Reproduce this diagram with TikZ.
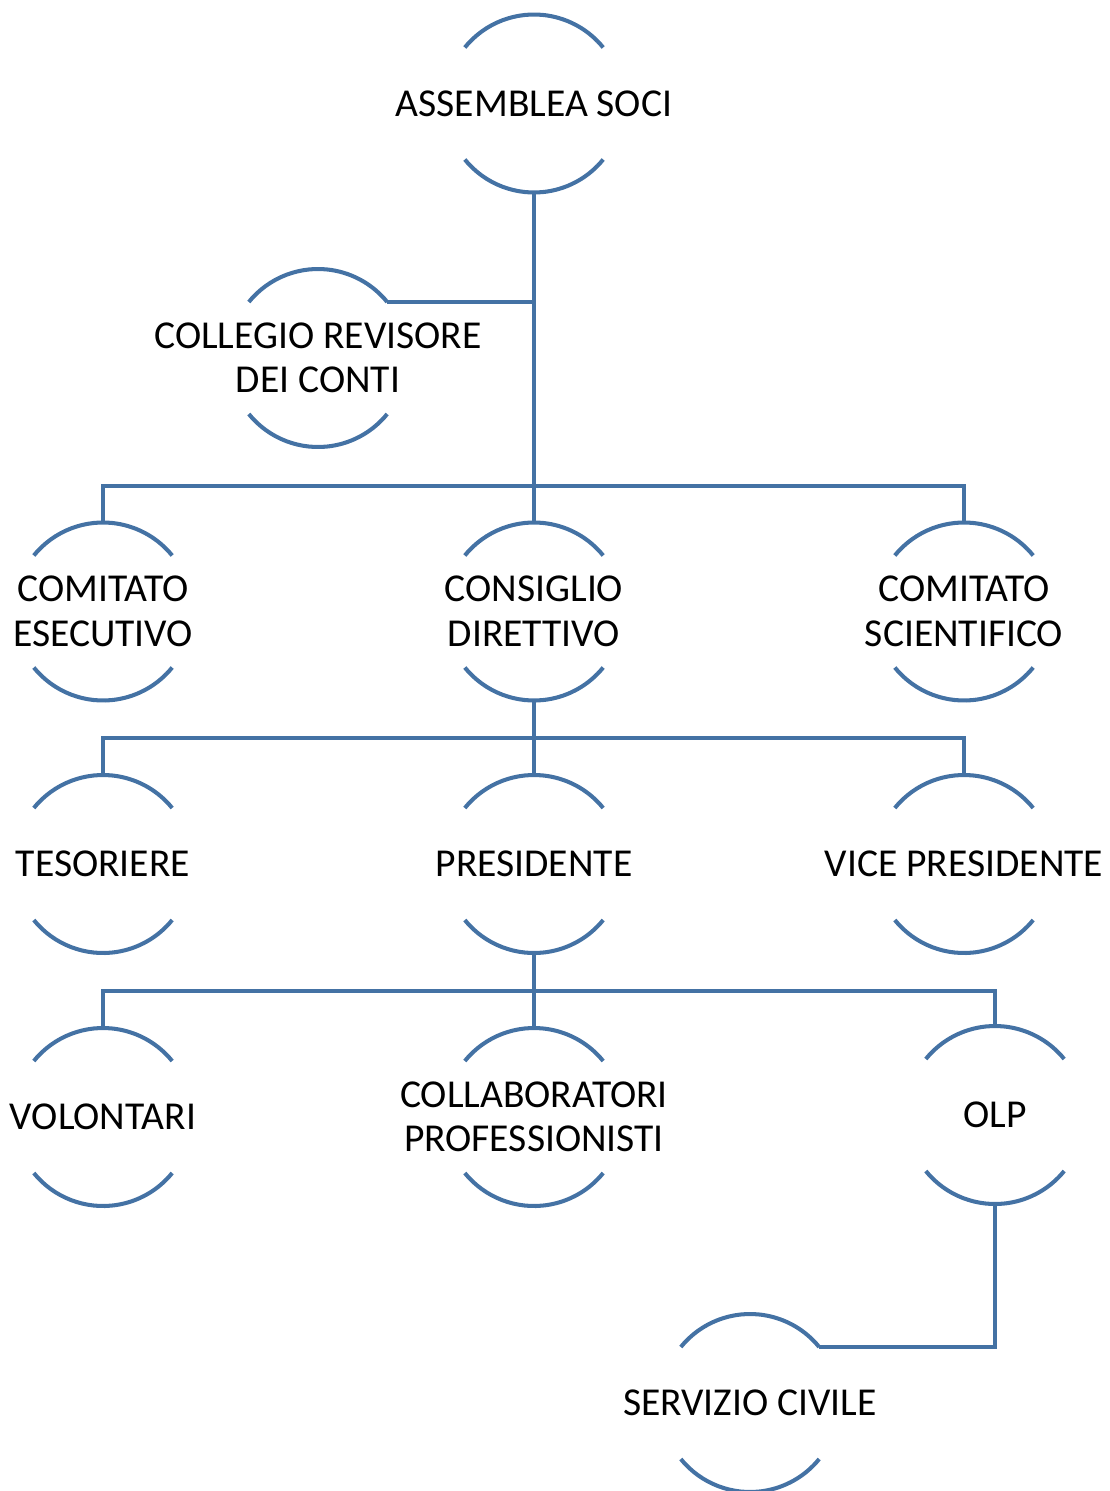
\documentclass[tikz,border=0pt]{standalone}
\usepackage{fontspec}
\setmainfont{Carlito}
\usepackage{tikz}
\usetikzlibrary{calc}
\definecolor{orgblue}{RGB}{68, 114, 164}

\begin{document}
\begin{tikzpicture}[
        unit/.style={circle, minimum size=3.56cm, inner sep=0pt, outer sep=0pt},
        unittext/.style={align=center, font=\fontsize{22.5}{25.3}\selectfont, text=black},
        orgline/.style={line width=2.3pt, orgblue}
    ]
        \useasboundingbox (0,0) rectangle (22.2,-29.82);
        % top level
        \node[unit, label={[unittext]center:ASSEMBLEA SOCI}] (as) at (10.68,-2.07) {};
        \node[unit, label={[unittext]center:COLLEGIO REVISORE\\DEI CONTI}] (cr) at (6.36,-7.16) {};
        % second row
        \node[unit, label={[unittext]center:COMITATO\\ESECUTIVO}] (ce) at (2.06,-12.23) {};
        \node[unit, label={[unittext]center:CONSIGLIO\\DIRETTIVO}] (cd) at (10.68,-12.23) {};
        \node[unit, label={[unittext]center:COMITATO\\SCIENTIFICO}] (cs) at (19.28,-12.23) {};
        % third row
        \node[unit, label={[unittext]center:TESORIERE}] (te) at (2.06,-17.28) {};
        \node[unit, label={[unittext]center:PRESIDENTE}] (pr) at (10.68,-17.28) {};
        \node[unit, label={[unittext]center:VICE PRESIDENTE}] (vp) at (19.28,-17.28) {};
        % fourth row
        \node[unit, label={[unittext]center:VOLONTARI}] (vo) at (2.06,-22.34) {};
        \node[unit, label={[unittext]center:COLLABORATORI\\PROFESSIONISTI}] (co) at (10.68,-22.34) {};
        \node[unit, label={[unittext]center:OLP}] (olp) at (19.90,-22.30) {};
        \node[unit, label={[unittext]center:SERVIZIO CIVILE}] (sc) at (15.00,-28.06) {};

        % open circles round the texts
        \foreach \n in {as,cr,ce,cd,cs,te,pr,vp,vo,co,olp,sc} {
            \draw[orgline] (\n.141) arc[start angle=141, end angle=39, radius=1.78];
            \draw[orgline] (\n.-141) arc[start angle=-141, end angle=-39, radius=1.78];
        }

        % connectors
        \draw[orgline] (as.south) -- ($(cd.north)+(0,0.73)$) coordinate (bus1) -- (cd.north);
        \draw[orgline] (cr.39) -- (cr.39 -| as.south);
        \draw[orgline] (ce.north) |- (bus1) -| (cs.north);
        \draw[orgline] (cd.south) -- ($(pr.north)+(0,0.74)$) coordinate (bus2) -- (pr.north);
        \draw[orgline] (te.north) |- (bus2) -| (vp.north);
        \draw[orgline] (pr.south) -- ($(co.north)+(0,0.74)$) coordinate (bus3) -- (co.north);
        \draw[orgline] (vo.north) |- (bus3) -| (olp.north);
        \draw[orgline] (olp.south) |- (sc.39);
    \end{tikzpicture}
\end{document}
